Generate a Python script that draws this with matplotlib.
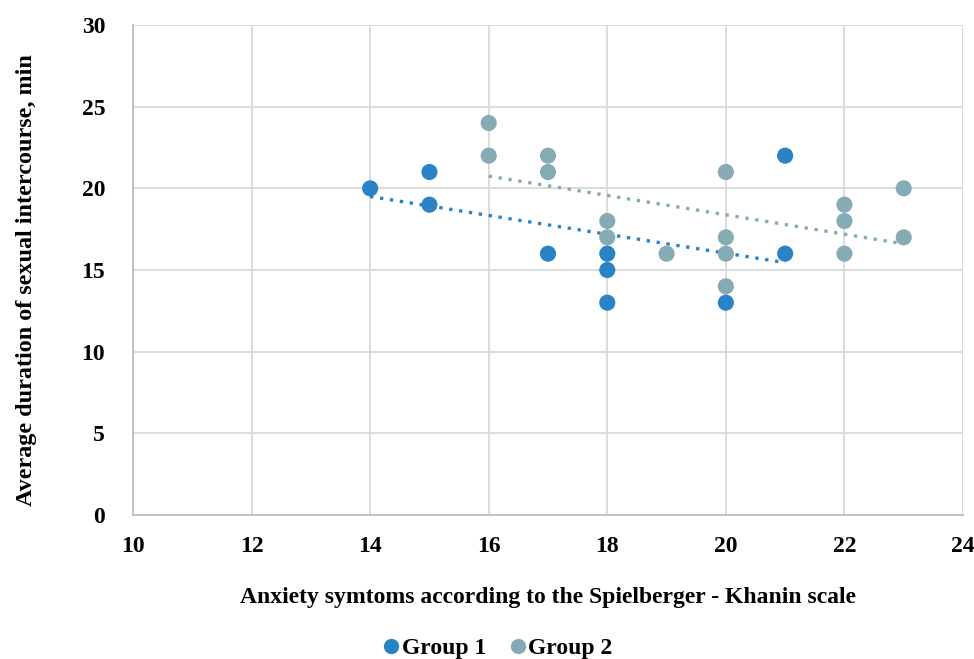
import matplotlib
matplotlib.use("Agg")
import matplotlib.pyplot as plt
from matplotlib.lines import Line2D

# Scatter data: anxiety score (x) vs. average duration in minutes (y)
g1_x = [14, 15, 15, 17, 18, 18, 18, 20, 21, 21]
g1_y = [20, 21, 19, 16, 16, 15, 13, 13, 22, 16]
g2_x = [16, 16, 17, 17, 18, 18, 19, 20, 20, 20, 20, 22, 22, 22, 23, 23]
g2_y = [24, 22, 22, 21, 18, 17, 16, 21, 17, 16, 14, 19, 18, 16, 20, 17]

# Linear trend lines (end points)
g1_trend_x = [14, 21]
g1_trend_y = [19.5, 15.45]
g2_trend_x = [16, 23]
g2_trend_y = [20.75, 16.6]

x_ticks = [10, 12, 14, 16, 18, 20, 22, 24]
y_ticks = [0, 5, 10, 15, 20, 25, 30]

c1 = "#2a83c6"
c2 = "#86abb4"

plt.rcParams['font.family'] = ['Liberation Serif', 'DejaVu Serif']
plt.rcParams['font.weight'] = 'bold'

fig = plt.figure(figsize=(9.74, 6.59), dpi=100)
ax = fig.add_axes([133 / 974, 1 - 515 / 659, (963 - 133) / 974, (515 - 25) / 659])

ax.set_xlim(10, 24)
ax.set_ylim(0, 30)
ax.set_xticks(x_ticks)
ax.set_yticks(y_ticks)
ax.grid(True, color="#d9d9d9", linewidth=1.3)
ax.set_axisbelow(True)
for s in ["top", "right"]:
    ax.spines[s].set_visible(False)
for s in ["left", "bottom"]:
    ax.spines[s].set_color("#bfbfbf")
    ax.spines[s].set_linewidth(1.3)
ax.tick_params(axis='x', length=0, labelsize=17, pad=15)
ax.tick_params(axis='y', length=0, labelsize=17, pad=20)
for lab in ax.get_xticklabels() + ax.get_yticklabels():
    lab.set_fontweight('bold')

ax.plot(g1_trend_x, g1_trend_y, linestyle=(0, (1, 2)), color=c1, linewidth=2.4, zorder=2)
ax.plot(g2_trend_x, g2_trend_y, linestyle=(0, (1, 2)), color=c2, linewidth=2.4, zorder=2)

ax.scatter(g2_x, g2_y, s=135, color=c2, edgecolors="none", zorder=3)
ax.scatter(g1_x, g1_y, s=135, color=c1, edgecolors="none", zorder=4)

ax.set_xlabel("Anxiety symtoms according to the Spielberger - Khanin scale",
              fontsize=17, fontweight='bold', labelpad=22)
ax.set_ylabel("Average duration of sexual intercourse, min",
              fontsize=17.4, fontweight='bold', labelpad=24)
ax.yaxis.set_label_coords(-0.116, 0.48)

handles = [Line2D([], [], marker='o', linestyle='none', color=c1, markersize=10, label="Group 1"),
           Line2D([], [], marker='o', linestyle='none', color=c2, markersize=10, label="Group 2")]
fig.legend(handles=handles, loc="center", bbox_to_anchor=(493 / 974, 1 - 648 / 659),
           ncol=2, frameon=False, handletextpad=-0.3, columnspacing=0.6,
           handlelength=1.5, prop={'weight': 'bold', 'size': 17})

fig.savefig("out.png", dpi=100)
